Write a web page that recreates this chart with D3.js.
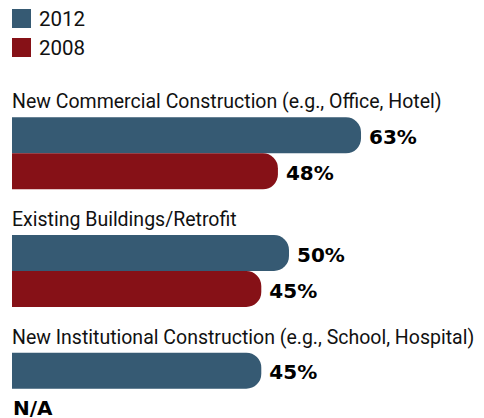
<!DOCTYPE html>
<html>
<head>
<meta charset="utf-8">
<script src="https://cdn.jsdelivr.net/npm/d3@7"></script>
<style>
  body { margin: 0; background: #fff; }
  .label { font-family: Roboto, "Liberation Sans", sans-serif; fill: #111; }
  .legend-label { font-family: "Liberation Sans Narrow", Roboto, sans-serif; fill: #111; }
  .value { font-family: "DejaVu Sans", sans-serif; font-weight: bold; fill: #000; }
</style>
</head>
<body>
<div id="chart"></div>
<script>
// data
var categories = ["New Commercial Construction (e.g., Office, Hotel)",
                  "Existing Buildings/Retrofit",
                  "New Institutional Construction (e.g., School, Hospital)"];
var seriesNames = ["2012", "2008"];
var values2012 = [63, 50, 45];
var values2008 = [48, 45, null];
var colors = ["#365a73", "#861117"];

var width = 484, height = 418;

var svg = d3.select("#chart").append("svg")
    .attr("width", width)
    .attr("height", height);

// scales
var x = d3.scaleLinear().domain([0, 100]).range([12, 566]);
var y0 = d3.scaleBand().domain(categories).range([90, 90 + 3 * 117.7]);
var y1 = d3.scaleBand().domain(seriesNames).range([0, 72]);
var color = d3.scaleOrdinal().domain(seriesNames).range(colors);

// legend
var legend = svg.selectAll(".legend")
    .data(seriesNames)
  .enter().append("g")
    .attr("transform", function(d, i) { return "translate(12," + (9 + i * 29) + ")"; });
legend.append("rect")
    .attr("width", 19).attr("height", 19)
    .attr("fill", function(d) { return color(d); });
legend.append("text")
    .attr("class", "legend-label")
    .attr("x", 27).attr("y", 17)
    .style("font-size", "20.5px")
    .text(function(d) { return d; });

// rounded-right bar path
function barPath(x0, x1, yt, h, r) {
  return "M" + x0 + "," + yt + "H" + (x1 - r) +
    "A" + r + "," + r + " 0 0 1 " + x1 + "," + (yt + r) +
    "V" + (yt + h - r) +
    "A" + r + "," + r + " 0 0 1 " + (x1 - r) + "," + (yt + h) +
    "H" + x0 + "Z";
}

var rows = categories.map(function(c, i) {
  return { cat: c, vals: [
    { key: "2012", v: values2012[i] },
    { key: "2008", v: values2008[i] } ] };
});

var group = svg.selectAll(".group")
    .data(rows)
  .enter().append("g")
    .attr("transform", function(d) { return "translate(0," + y0(d.cat) + ")"; });

group.append("text")
    .attr("class", "label")
    .attr("x", 12).attr("y", 18.3)
    .style("font-size", "19.5px")
    .text(function(d) { return d.cat; });

var bars = group.append("g")
    .attr("transform", "translate(0,27.3)");

bars.selectAll("path")
    .data(function(d) { return d.vals.filter(function(e) { return e.v != null; }); })
  .enter().append("path")
    .attr("d", function(d) { return barPath(x(0), x(d.v), y1(d.key), y1.bandwidth(), 15); })
    .attr("fill", function(d) { return color(d.key); });

bars.selectAll(".value")
    .data(function(d) { return d.vals; })
  .enter().append("text")
    .attr("class", "value")
    .attr("x", function(d) { return d.v == null ? x(0) + 1 : x(d.v) + 8; })
    .attr("y", function(d) { return y1(d.key) + y1.bandwidth() / 2 + 8.5; })
    .style("font-size", "20px")
    .text(function(d) { return d.v == null ? "N/A" : d.v + "%"; });
</script>
</body>
</html>
